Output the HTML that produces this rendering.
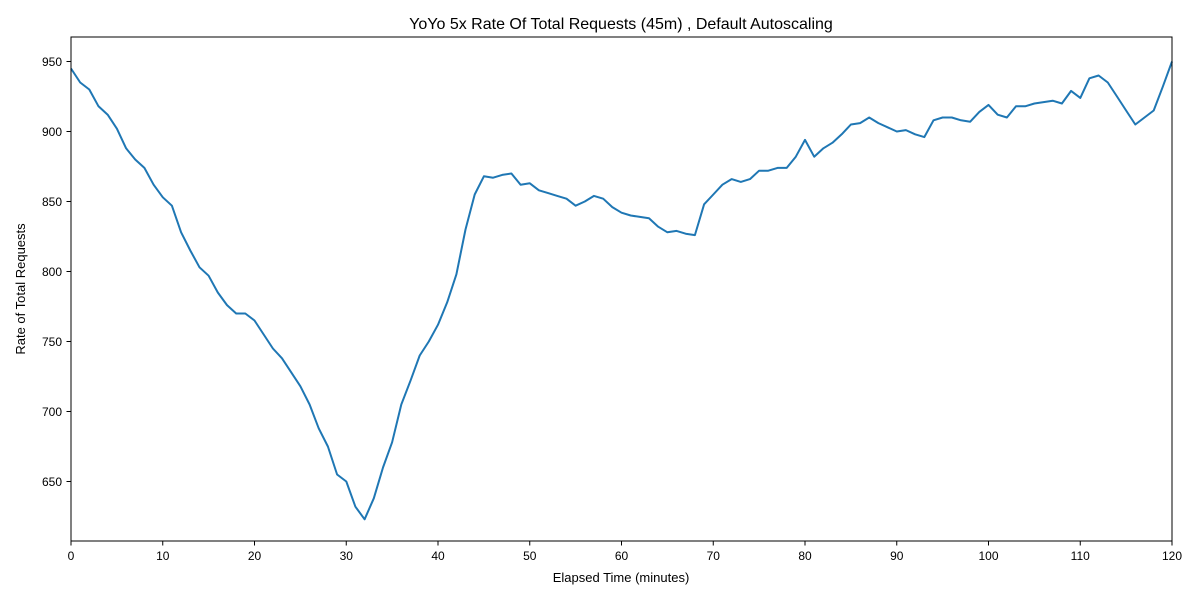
<!DOCTYPE html>
<html><head><meta charset="utf-8"><style>
body{margin:0;background:#fff;font-family:"Liberation Sans",sans-serif}
svg text{font-family:"Liberation Sans",sans-serif;fill:#000}
</style></head><body>
<svg id="chart" width="1200" height="600">
<rect width="1200" height="600" fill="#fff"/>
<text x="621" y="29" font-size="16" text-anchor="middle">YoYo 5x Rate Of Total Requests (45m) , Default Autoscaling</text>
<g id="axes"></g>
<path id="line" fill="none" stroke="#1f77b4" stroke-width="2" stroke-linejoin="round"/>
<rect x="71" y="37" width="1101" height="504" fill="none" stroke="#000" stroke-width="1"/>
<text x="621" y="582" font-size="13" text-anchor="middle">Elapsed Time (minutes)</text>
<text x="25" y="289" font-size="13" text-anchor="middle" transform="rotate(-90 25 289)">Rate of Total Requests</text>
</svg>
<script>
const xTicks=[0,10,20,30,40,50,60,70,80,90,100,110,120];
const yTicks=[650,700,750,800,850,900,950];
const minutes=[0,1,2,3,4,5,6,7,8,9,10,11,12,13,14,15,16,17,18,19,20,21,22,23,24,25,26,27,28,29,30,31,32,33,34,35,36,37,38,39,40,41,42,43,44,45,46,47,48,49,50,51,52,53,54,55,56,57,58,59,60,61,62,63,64,65,66,67,68,69,70,71,72,73,74,75,76,77,78,79,80,81,82,83,84,85,86,87,88,89,90,91,92,93,94,95,96,97,98,99,100,101,102,103,104,105,106,107,108,109,110,111,112,113,114,115,116,117,118,119,120];
const rates=[945,935,930,918,912,902,888,880,874,862,853,847,828,815,803,797,785,776,770,770,765,755,745,738,728,718,705,688,675,655,650,632,623,638,660,678,705,722,740,750,762,778,798,830,855,868,867,869,870,862,863,858,856,854,852,847,850,854,852,846,842,840,839,838,832,828,829,827,826,848,855,862,866,864,866,872,872,874,874,882,894,882,888,892,898,905,906,910,906,903,900,901,898,896,908,910,910,908,907,914,919,912,910,918,918,920,921,922,920,929,924,938,940,935,925,915,905,910,915,932,950];
const X=v=>71+v*(1101/120);
const Y=v=>61.5-(v-950)*1.4;
const ax=document.getElementById('axes');
const ns='http://www.w3.org/2000/svg';
xTicks.forEach(t=>{
 const l=document.createElementNS(ns,'line');
 l.setAttribute('x1',X(t));l.setAttribute('x2',X(t));l.setAttribute('y1',541);l.setAttribute('y2',545.5);l.setAttribute('stroke','#000');
 
 
 ax.appendChild(l);
 const tx=document.createElementNS(ns,'text');
 tx.setAttribute('x',X(t));tx.setAttribute('y',560);tx.setAttribute('font-size','12');tx.setAttribute('text-anchor','middle');tx.textContent=t;
 
 
 ax.appendChild(tx);
});
yTicks.forEach(t=>{
 const l=document.createElementNS(ns,'line');
 l.setAttribute('x1',66.5);l.setAttribute('x2',71);l.setAttribute('y1',Y(t));l.setAttribute('y2',Y(t));l.setAttribute('stroke','#000');
 
 
 ax.appendChild(l);
 const tx=document.createElementNS(ns,'text');
 tx.setAttribute('x',62);tx.setAttribute('y',Y(t)+4.5);tx.setAttribute('font-size','12');tx.setAttribute('text-anchor','end');tx.textContent=t;
 
 
 ax.appendChild(tx);
});
document.getElementById('line').setAttribute('d',minutes.map((m,i)=>(i?'L':'M')+X(m).toFixed(1)+' '+Y(rates[i]).toFixed(1)).join(' '));
</script>
</body></html>
